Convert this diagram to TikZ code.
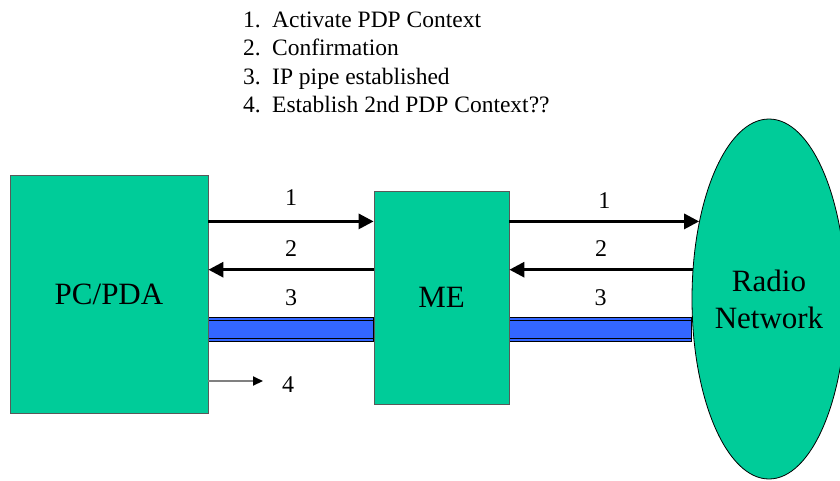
\documentclass[tikz,border=0pt]{standalone}
\usepackage{fontspec}
\setmainfont{Liberation Serif}
\usetikzlibrary{arrows.meta,positioning,shapes.geometric,backgrounds}
\definecolor{unitgreen}{RGB}{0,204,153}
\definecolor{pipeblue}{RGB}{51,102,255}

\begin{document}
\begin{tikzpicture}[x=1pt,y=-1pt,
    unit/.style={draw=black!65,line width=0.8pt,fill=unitgreen,inner sep=0pt,
                 font=\fontsize{31}{37}\selectfont},
    msg/.style={line width=3pt,-{Triangle[length=15pt,width=15pt]}},
    lbl/.style={inner sep=0pt,font=\fontsize{24}{28}\selectfont},
    pipe/.style={fill=pipeblue,draw=black,line width=0.8pt}]
  \useasboundingbox (0,0) rectangle (840,480);
  % list of steps
  \foreach \n/\txt [count=\i from 0] in {1/Activate PDP Context,2/Confirmation,3/IP pipe established,4/Establish 2nd PDP Context??}
    \node[anchor=base west,inner sep=0pt,font=\fontsize{23.5}{28}\selectfont] (item\n) at (243,{27+28.5*\i}) {\makebox[29pt][l]{\n.}\txt};
  % units
  \node[unit,minimum width=198pt,minimum height=238pt] (pc) at (109,294) {PC/PDA};
  \node[unit,minimum width=135pt,minimum height=213pt] (me) at (441.5,297.5) {ME};
  \node[unit,ellipse,draw=black,minimum width=154pt,minimum height=360pt,align=center] (rn) at (769,299) {Radio\\Network};
  % messages
  \path[msg]
    (pc.east |- rn.132) edge node[lbl,above=14pt] {1} (me.west |- rn.132)
    (me.west |- rn.159) edge node[lbl,above=12pt] {2} (pc.east |- rn.159)
    (me.east |- rn.132) edge node[lbl,above=11pt] {1} (rn.132)
    (rn.159) edge node[lbl,above=12pt] {2} (me.east |- rn.159);
  % IP pipes
  \begin{scope}[on background layer]
    \foreach \a/\b in {pc/me,me/rn} {
      \filldraw[pipe] (\a.east |- 0,317) rectangle (\b.west |- 0,341);
      \draw[line width=0.8pt] (\a.east |- 0,320) -- (\b.west |- 0,320)
                              (\a.east |- 0,338) -- (\b.west |- 0,338);
      \path (\a.east |- 0,317) -- node[lbl,above=11pt] {3} (\b.west |- 0,317);
    }
  \end{scope}
  % second context
  \coordinate (q4) at (263,381);
  \draw[line width=2pt,draw=black!50,-{Triangle[length=10pt,width=9pt,color=black]}] (pc.east |- q4) -- (q4) node[lbl,right=18pt,yshift=-4pt] {4};
\end{tikzpicture}
\end{document}
